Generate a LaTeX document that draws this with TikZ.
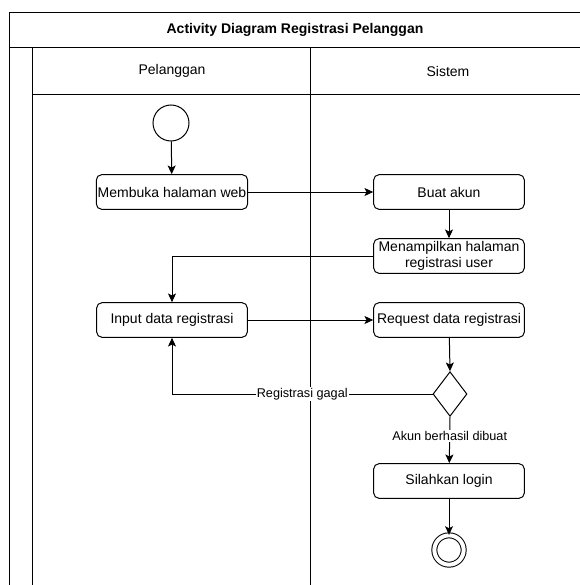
\documentclass[tikz,border=0pt]{standalone}
\usepackage{fontspec}
\setmainfont{Liberation Sans}
\usetikzlibrary{arrows.meta, positioning, shapes.geometric}

\begin{document}
\begin{tikzpicture}[x=0.75pt, y=-0.75pt, line width=0.75pt,
    every node/.style={font=\fontsize{10.5}{12.5}\selectfont},
    actbox/.style={draw, rounded corners=4pt, minimum width=113pt, minimum height=26pt, inner sep=1pt, align=center},
    flow/.style={-{Stealth[length=6.5pt, width=6pt, inset=1.5pt]}},
    guard/.style={fill=white, inner sep=1pt, font=\fontsize{9.5}{11}\selectfont}]
    \useasboundingbox (0,0) rectangle (579,585);

    % Swimlane frame
    \draw (9,585) -- (9,13) -- (590,13);
    \draw (9,48) -- (590,48);
    \draw (32,585) -- (32,48);
    \draw (32,94) -- (590,94);
    \draw (310,48) -- (310,585);

    % Titles
    \node[font=\fontsize{10.5}{12.5}\selectfont\bfseries] (title) at (295,30) {Activity Diagram Registrasi Pelanggan};
    \node (lanecust) at (172,71) {Pelanggan};
    \node (lanesys) at (448,71) {Sistem};

    % Activities
    \node[draw, circle, minimum size=27pt, inner sep=0pt] (start) at (171,123) {};
    \node[actbox] (web) at (172,192) {Membuka halaman web};
    \node[actbox] (akun) at (449,192) {Buat akun};
    \node[actbox] (tampil) at (449,256) {Menampilkan halaman\\registrasi user};
    \node[actbox] (input) at (172,320) {Input data registrasi};
    \node[actbox] (request) at (449,320) {Request data registrasi};
    \node[draw, diamond, minimum width=25.5pt, minimum height=33.5pt, inner sep=0pt] (dec) at (450,394) {};
    \node[actbox] (login) at (449,481) {Silahkan login};
    \node[draw, circle, double, double distance=3pt, minimum size=22pt, inner sep=0pt] (stop) at (449,550) {};

    % Flows
    \draw[flow] (start) -- (web);
    \draw[flow] (web) -- (akun);
    \draw[flow] (akun) -- (tampil);
    \draw[flow] (tampil.west) -| (input.north);
    \draw[flow] (input) -- (request);
    \draw[flow] (request) -- (dec.north);
    \draw[flow] (dec.west) -| node[guard, pos=0.25] {Registrasi gagal} (input.south);
    \draw[flow] (dec.south) -- node[guard, pos=0.42] {Akun berhasil dibuat} (login);
    \draw[flow] (login) -- (stop);
\end{tikzpicture}
\end{document}
